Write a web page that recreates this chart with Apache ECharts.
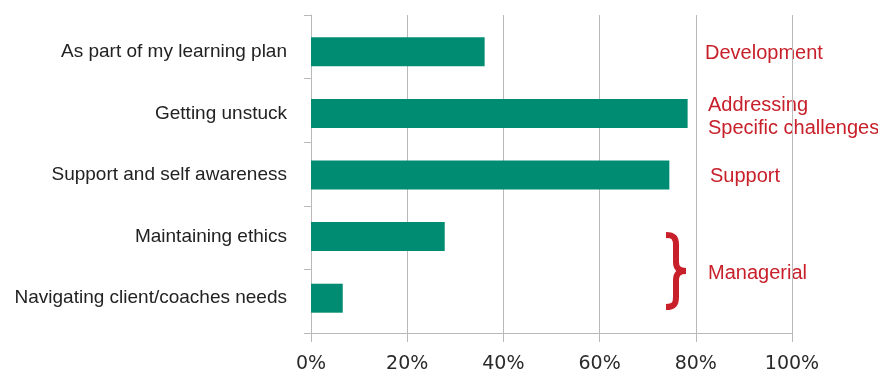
<!DOCTYPE html>
<html>
<head>
<meta charset="utf-8">
<script src="https://cdn.jsdelivr.net/npm/echarts@6/dist/echarts.min.js"></script>
<style>
html,body{margin:0;padding:0;background:#fff;}
#chart{width:878px;height:374px;}
</style>
</head>
<body>
<div id="chart"></div>
<script>
const categories = [
  "As part of my learning plan",
  "Getting unstuck",
  "Support and self awareness",
  "Maintaining ethics",
  "Navigating client/coaches needs"
];
const values = [36.1, 78.3, 74.5, 27.8, 6.6];
const xTicks = [0, 20, 40, 60, 80, 100];
const annotations = ["Development", "Addressing\nSpecific challenges", "Support", "Managerial"];

const RED = "#c8202a";
const GRID_GRAY = "#b9b9b9";
const braceStyle = {fill: null, stroke: RED, lineWidth: 6, lineCap: "butt"};
const annFont = "20px 'Liberation Sans'";

const chart = echarts.init(document.getElementById("chart"), null, {renderer: "canvas"});
chart.setOption({
  animation: false,
  backgroundColor: "#ffffff",
  grid: [
    {left: 311, top: 15, width: 481, height: 320, containLabel: false},
    {left: 311, top: 21, width: 481, height: 308, containLabel: false}
  ],
  xAxis: [
    {
      type: "value", gridIndex: 0, position: "bottom",
      min: xTicks[0], max: xTicks[xTicks.length - 1], interval: xTicks[1] - xTicks[0],
      axisLine: {show: true, onZero: false, lineStyle: {color: GRID_GRAY, width: 1}},
      axisTick: {show: true, length: 9, lineStyle: {color: GRID_GRAY}},
      splitLine: {show: true, lineStyle: {color: GRID_GRAY, width: 1}},
      axisLabel: {formatter: "{value}%", fontFamily: "DejaVu Sans", fontSize: 19, color: "#2a2a2a", margin: 22}
    },
    {
      type: "value", gridIndex: 1, min: 0, max: 100, show: false
    }
  ],
  yAxis: [
    {
      type: "category", gridIndex: 0, data: categories, inverse: true,
      axisLine: {show: true, onZero: false, lineStyle: {color: GRID_GRAY, width: 1}},
      axisTick: {show: true, length: 7, lineStyle: {color: GRID_GRAY}},
      axisLabel: {show: false},
      splitLine: {show: false}
    },
    {
      type: "category", gridIndex: 1, data: categories, inverse: true,
      axisLine: {show: false},
      axisTick: {show: false},
      axisLabel: {fontFamily: "Liberation Sans", fontSize: 19, color: "#222", margin: 24},
      splitLine: {show: false}
    }
  ],
  series: [{
    type: "bar",
    xAxisIndex: 1, yAxisIndex: 1,
    data: values,
    barWidth: 29,
    itemStyle: {color: "#008c72"},
    silent: true
  }],
  graphic: [
    {type: "text", x: 705, y: 53, style: {text: annotations[0], font: annFont, fill: RED, textVerticalAlign: "middle"}},
    {type: "text", x: 708, y: 116.5, style: {text: annotations[1], font: annFont, lineHeight: 23, fill: RED, textVerticalAlign: "middle"}},
    {type: "text", x: 710, y: 176.5, style: {text: annotations[2], font: annFont, fill: RED, textVerticalAlign: "middle"}},
    {type: "text", x: 708, y: 273.5, style: {text: annotations[3], font: annFont, fill: RED, textVerticalAlign: "middle"}},
    {
      type: "group", x: 665, y: 232,
      children: [
        {type: "bezierCurve", shape: {x1: 1, y1: 3, cpx1: 9, cpy1: 3, cpx2: 11, cpy2: 6, x2: 11, y2: 13}, style: braceStyle},
        {type: "line", shape: {x1: 11, y1: 12.5, x2: 11, y2: 30.5}, style: braceStyle},
        {type: "bezierCurve", shape: {x1: 11, y1: 30, cpx1: 11, cpy1: 36, cpx2: 14, cpy2: 39, x2: 21, y2: 39}, style: braceStyle},
        {type: "bezierCurve", shape: {x1: 21, y1: 39, cpx1: 14, cpy1: 39, cpx2: 11, cpy2: 42, x2: 11, y2: 48}, style: braceStyle},
        {type: "line", shape: {x1: 11, y1: 47.5, x2: 11, y2: 65.5}, style: braceStyle},
        {type: "bezierCurve", shape: {x1: 11, y1: 65, cpx1: 11, cpy1: 72, cpx2: 9, cpy2: 75, x2: 1, y2: 75}, style: braceStyle}
      ]
    }
  ]
});
</script>
</body>
</html>
